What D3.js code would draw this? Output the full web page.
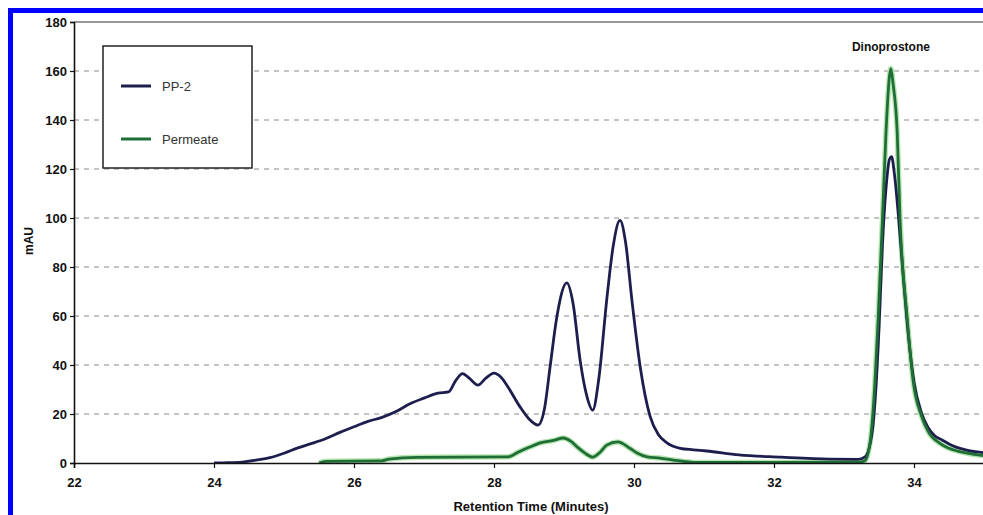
<!DOCTYPE html>
<html>
<head>
<meta charset="utf-8">
<script src="https://cdn.jsdelivr.net/npm/d3@7"></script>
<style>
  html, body { margin: 0; padding: 0; background: #fff; }
  svg { display: block; }
</style>
</head>
<body>
<svg id="chart" width="983" height="515"></svg>
<script>
// ---- data ----
const xTicks = [22, 24, 26, 28, 30, 32, 34];
const yTicks = [0, 20, 40, 60, 80, 100, 120, 140, 160, 180];

const pp2Time = [24.0, 24.2, 24.4, 24.6, 24.8, 25.0, 25.2, 25.4, 25.6, 25.8, 26.0, 26.2, 26.4, 26.6, 26.8, 27.0, 27.2, 27.35, 27.45, 27.55, 27.65, 27.77, 27.88, 28.0, 28.1, 28.2, 28.37, 28.5, 28.63, 28.72, 28.8, 28.9, 29.04, 29.13, 29.23, 29.32, 29.41, 29.5, 29.61, 29.7, 29.8, 29.88, 29.97, 30.09, 30.23, 30.35, 30.47, 30.66, 30.85, 31.04, 31.5, 32.1, 32.8, 33.2, 33.3, 33.4, 33.45, 33.5, 33.55, 33.6, 33.65, 33.68, 33.72, 33.78, 33.85, 33.92, 34.0, 34.1, 34.2, 34.3, 34.4, 34.5, 34.6, 34.75, 34.9, 35.0];
const pp2Value = [0, 0.1, 0.4, 1.2, 2.2, 4.0, 6.2, 8.0, 10.0, 12.5, 14.8, 17.0, 18.6, 21.0, 24.2, 26.5, 28.5, 29.0, 33.5, 36.5, 34.5, 31.8, 34.5, 36.7, 35.0, 31.0, 23.0, 18.0, 15.5, 22.0, 39.0, 60.0, 73.5, 65.0, 42.0, 28.0, 21.6, 35.0, 66.5, 88.0, 99.0, 90.0, 66.5, 39.0, 19.0, 11.5, 8.2, 6.0, 5.4, 4.9, 3.3, 2.4, 1.6, 1.5, 2.5, 12.0, 28.0, 55.0, 90.0, 112.0, 124.0, 125.0, 118.0, 100.0, 75.0, 52.0, 33.0, 21.0, 14.5, 11.0, 9.4, 7.8, 6.5, 5.3, 4.5, 4.2];

const permTime = [25.5, 25.6, 26.4, 26.5, 26.9, 28.2, 28.35, 28.51, 28.66, 28.85, 28.99, 29.1, 29.19, 29.3, 29.41, 29.52, 29.61, 29.77, 29.94, 30.05, 30.19, 30.37, 30.56, 30.9, 33.2, 33.3, 33.38, 33.44, 33.49, 33.55, 33.6, 33.65, 33.67, 33.7, 33.76, 33.8, 33.9, 33.99, 34.11, 34.2, 34.37, 34.5, 34.76, 35.0];
const permValue = [0, 0.7, 0.9, 1.6, 2.3, 2.5, 4.5, 6.5, 8.2, 9.2, 10.2, 8.8, 6.5, 4.0, 2.4, 4.5, 7.3, 8.6, 6.0, 4.0, 2.5, 2.0, 1.2, 0.2, 0.3, 1.0, 10.0, 32.0, 60.0, 100.0, 135.0, 158.0, 161.0, 155.0, 135.0, 100.0, 60.0, 33.0, 19.0, 13.0, 8.0, 6.0, 4.0, 3.0];

const seriesNames = ["PP-2", "Permeate"];
const yTitle = "mAU";
const xTitle = "Retention Time  (Minutes)";
const peakLabel = "Dinoprostone";

// ---- layout ----
const svg = d3.select("#chart");
const W = 983, H = 515;
const plot = { left: 74, right: 984, top: 22, bottom: 463 };
const FONT = "Arial, 'Liberation Sans', sans-serif";

const x = d3.scaleLinear().domain([22, 35]).range([plot.left, plot.right]);
const y = d3.scaleLinear().domain([0, 180]).range([plot.bottom, plot.top]);

// blue frame
svg.append("rect").attr("x", 8).attr("y", 8).attr("width", W).attr("height", 5).attr("fill", "#0000ff");
svg.append("rect").attr("x", 8).attr("y", 8).attr("width", 5).attr("height", H).attr("fill", "#0000ff");

// gridlines
svg.append("g").selectAll("line").data(yTicks.filter(d => d > 0 && d < 180)).join("line")
  .attr("x1", plot.left).attr("x2", W)
  .attr("y1", d => y(d)).attr("y2", d => y(d))
  .attr("stroke", "#8a8a8a").attr("stroke-width", 1.2).attr("stroke-dasharray", "5,5");

// top border
svg.append("line").attr("x1", plot.left).attr("x2", W).attr("y1", plot.top).attr("y2", plot.top)
  .attr("stroke", "#777").attr("stroke-width", 1.3);

// clip
svg.append("clipPath").attr("id", "clip").append("rect")
  .attr("x", plot.left).attr("y", plot.top - 5).attr("width", W - plot.left).attr("height", plot.bottom - plot.top + 5);

const line = d3.line().x(d => x(d[0])).y(d => y(d[1])).curve(d3.curveMonotoneX);
const pp2 = pp2Time.map((t, i) => [t, pp2Value[i]]);
const perm = permTime.map((t, i) => [t, permValue[i]]);

const g = svg.append("g").attr("clip-path", "url(#clip)");
g.append("path").attr("d", line(perm)).attr("fill", "none").attr("stroke", "#b8e6b0").attr("stroke-width", 5.5);
g.append("path").attr("d", line(pp2)).attr("fill", "none").attr("stroke", "#1e1e4e").attr("stroke-width", 2.8).attr("stroke-linejoin", "round");
g.append("path").attr("d", line(perm)).attr("fill", "none").attr("stroke", "#1f6e38").attr("stroke-width", 2.8).attr("stroke-linejoin", "round");

// axes
const yAxis = d3.axisLeft(y).tickValues(yTicks).tickSize(4).tickFormat(d3.format("d"));
const ya = svg.append("g").attr("transform", `translate(${plot.left},0)`).call(yAxis);
ya.select(".domain").attr("stroke", "#111").attr("stroke-width", 1.6);
ya.selectAll(".tick line").attr("stroke", "#111").attr("stroke-width", 1.2);
ya.selectAll(".tick text").attr("font-family", FONT)
  .attr("font-size", 13).attr("font-weight", "bold").attr("fill", "#111").attr("x", -7);

const xAxis = d3.axisBottom(x).tickValues(xTicks).tickSize(5).tickFormat(d3.format("d"));
const xa = svg.append("g").attr("transform", `translate(0,${plot.bottom})`).call(xAxis);
xa.select(".domain").attr("stroke", "#111").attr("stroke-width", 1.6);
xa.selectAll(".tick line").attr("stroke", "#111").attr("stroke-width", 1.2);
xa.selectAll(".tick text").attr("font-family", FONT)
  .attr("font-size", 13).attr("font-weight", "bold").attr("fill", "#111").attr("dy", "0").attr("y", 24);

// titles
svg.append("text").attr("transform", "translate(33,241) rotate(-90)").attr("text-anchor", "middle")
  .attr("font-family", FONT).attr("font-size", 12).attr("font-weight", "bold")
  .attr("fill", "#111").text(yTitle);
svg.append("text").attr("x", 531).attr("y", 511).attr("text-anchor", "middle")
  .attr("font-family", FONT).attr("font-size", 13).attr("font-weight", "bold")
  .attr("fill", "#111").text(xTitle);
svg.append("text").attr("x", x(33.67)).attr("y", 51).attr("text-anchor", "middle")
  .attr("font-family", FONT).attr("font-size", 12).attr("font-weight", "bold")
  .attr("fill", "#111").text(peakLabel);

// legend
const lg = svg.append("g");
lg.append("rect").attr("x", 103).attr("y", 46).attr("width", 149).attr("height", 122)
  .attr("fill", "#fff").attr("stroke", "#222").attr("stroke-width", 1.5);
const legendColors = ["#1e1e4e", "#1f6e38"];
const legendY = [86, 139];
seriesNames.forEach((name, i) => {
  lg.append("line").attr("x1", 121).attr("x2", 151).attr("y1", legendY[i]).attr("y2", legendY[i])
    .attr("stroke", legendColors[i]).attr("stroke-width", 3);
  lg.append("text").attr("x", 162).attr("y", legendY[i] + 4.5)
    .attr("font-family", FONT).attr("font-size", 13)
    .attr("fill", "#333").text(name);
});
</script>
</body>
</html>
